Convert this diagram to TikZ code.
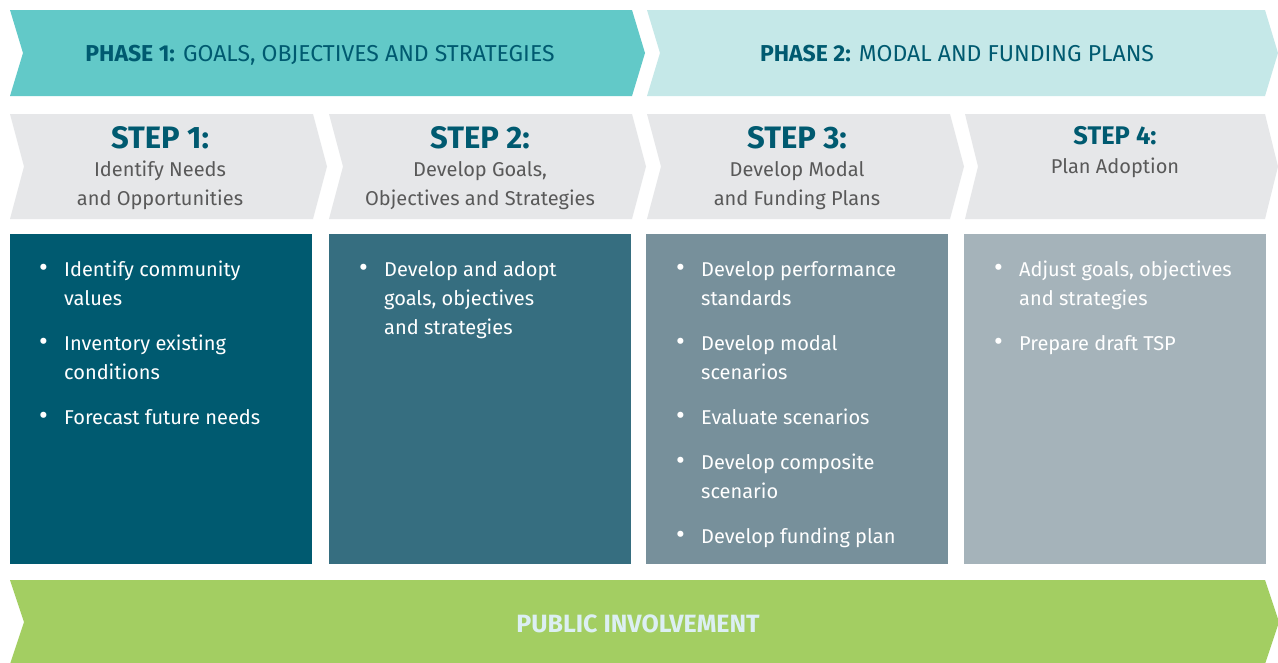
\documentclass[tikz,border=0pt]{standalone}
\usepackage{fontspec}
\usepackage{graphicx}
\setmainfont{Fira Sans}
\usetikzlibrary{positioning}
\definecolor{phaseA}{HTML}{62C9C8}
\definecolor{phaseB}{HTML}{C5E8E8}
\definecolor{stepgray}{HTML}{E6E7E9}
\definecolor{boxA}{HTML}{005A70}
\definecolor{boxB}{HTML}{366E80}
\definecolor{boxC}{HTML}{77909B}
\definecolor{boxD}{HTML}{A5B3BA}
\definecolor{greenbar}{HTML}{A3CE62}
\definecolor{titlecol}{HTML}{005A70}
\definecolor{bodygray}{HTML}{595959}
\definecolor{lightblue}{HTML}{DCEFF3}
\newcommand{\chev}[6]{% fill, xl, xr, yt, yb, d
  \fill[#1] (#2,#4) -- (#3,#4) -- ({#3+#6},{(#4+#5)/2}) -- (#3,#5) -- (#2,#5) -- ({#2+#6},{(#4+#5)/2}) -- cycle;}
\newcommand{\bl}{\makebox[25pt][l]{\raisebox{-0.5pt}{\scalebox{1.35}{\textbullet}}}}
\newcommand{\ctext}[1]{\begin{tabular}[t]{@{}c@{}}#1\end{tabular}}
\tikzset{
  phasetext/.style={anchor=base, inner sep=0pt, text=titlecol, font=\fontsize{23}{26}\selectfont},
  steptitle/.style={anchor=base, inner sep=0pt, text=titlecol, font=\bfseries\fontsize{31}{32}\selectfont},
  steptitlesmall/.style={anchor=base, inner sep=0pt, text=titlecol, font=\bfseries\fontsize{25.5}{27}\selectfont},
  stepbody/.style={anchor=base, inner sep=0pt, text=bodygray, font=\fontsize{20}{29}\selectfont},
  bullets/.style={anchor=base west, inner sep=0pt, text=white, font=\fontsize{20}{29}\selectfont},
}
\begin{document}
\begin{tikzpicture}[x=1pt,y=-1pt]
\useasboundingbox (0,0) rectangle (1278,662);
\fill[white] (0,0) rectangle (1278,662);
% phases
\chev{phaseA}{10}{632}{10}{96}{13}
\chev{phaseB}{647}{1265}{10}{96}{13}
\node[phasetext] (p1) at (320,61) {{\bfseries PHASE 1:} GOALS, OBJECTIVES AND STRATEGIES};
\node[phasetext] (p2) at (957,61) {{\bfseries PHASE 2:} MODAL AND FUNDING PLANS};
% steps
\chev{stepgray}{10}{313}{114}{219}{14}
\chev{stepgray}{329}{632}{114}{219}{14}
\chev{stepgray}{647}{950}{114}{219}{14}
\chev{stepgray}{965}{1265}{114}{219}{13}
\node[steptitle] (s1) at (160,148) {STEP 1:};
\node[stepbody] (s1b) at (160,176) {\ctext{Identify Needs\\and Opportunities}};
\node[steptitle] (s2) at (480,148) {STEP 2:};
\node[stepbody] (s2b) at (480,176) {\ctext{Develop Goals,\\Objectives and Strategies}};
\node[steptitle] (s3) at (797,148) {STEP 3:};
\node[stepbody] (s3b) at (797,176) {\ctext{Develop Modal\\and Funding Plans}};
\node[steptitlesmall] (s4) at (1115,144) {STEP 4:};
\node[stepbody] (s4b) at (1115,173) {Plan Adoption};
% boxes
\fill[boxA] (10,234) rectangle (312,564);
\fill[boxB] (329,234) rectangle (631,564);
\fill[boxC] (646,234) rectangle (948,564);
\fill[boxD] (964,234) rectangle (1266,564);
\node[bullets] (b1) at (39,276) {\begin{tabular}[t]{@{}l@{}l@{}}
\bl & Identify community\\ & values\\[16pt]
\bl & Inventory existing\\ & conditions\\[16pt]
\bl & Forecast future needs\end{tabular}};
\node[bullets] (b2) at (359,276) {\begin{tabular}[t]{@{}l@{}l@{}}
\bl & Develop and adopt\\ & goals, objectives\\ & and strategies\end{tabular}};
\node[bullets] (b3) at (676,276) {\begin{tabular}[t]{@{}l@{}l@{}}
\bl & Develop performance\\ & standards\\[16pt]
\bl & Develop modal\\ & scenarios\\[16pt]
\bl & Evaluate scenarios\\[16pt]
\bl & Develop composite\\ & scenario\\[16pt]
\bl & Develop funding plan\end{tabular}};
\node[bullets] (b4) at (994,276) {\begin{tabular}[t]{@{}l@{}l@{}}
\bl & Adjust goals, objectives\\ & and strategies\\[16pt]
\bl & Prepare draft TSP\end{tabular}};
% public involvement
\chev{greenbar}{10}{1265}{580}{664}{14}
\node[anchor=base, inner sep=0pt, text=lightblue, font=\bfseries\fontsize{25}{27}\selectfont] (pi) at (638,632) {PUBLIC INVOLVEMENT};
\end{tikzpicture}
\end{document}
